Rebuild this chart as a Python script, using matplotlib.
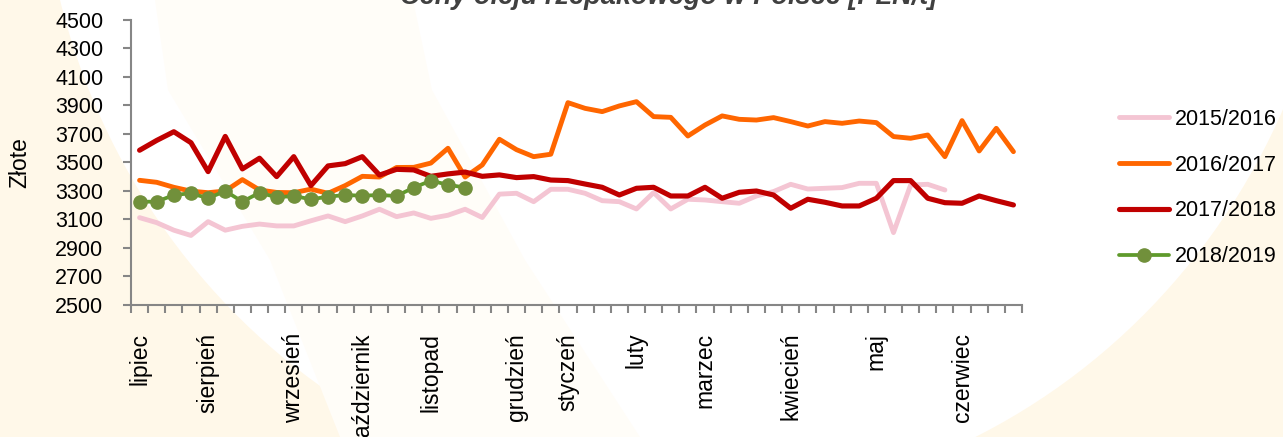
import numpy as np
import matplotlib
matplotlib.use("Agg")
import matplotlib.pyplot as plt
from matplotlib.patches import Ellipse, Polygon

# weekly prices of rapeseed oil, PLN/t (marketing year July..June)
weeks = np.arange(52)
s2015_16 = [3113, 3078, 3025, 2988, 3085, 3025, 3052, 3068, 3055, 3055, 3091, 3125,
            3085, 3125, 3172, 3120, 3146, 3108, 3130, 3172, 3114, 3278, 3284, 3225,
            3312, 3312, 3284, 3232, 3225, 3174, 3289, 3174, 3242, 3237, 3225, 3214,
            3265, 3296, 3347, 3314, 3319, 3324, 3354, 3354, 3008, 3342, 3347, 3307]
s2016_17 = [3375, 3361, 3326, 3299, 3288, 3300, 3380, 3307, 3290, 3288, 3313, 3284,
            3338, 3403, 3398, 3465, 3466, 3496, 3600, 3398, 3483, 3663, 3590, 3541,
            3558, 3920, 3880, 3857, 3897, 3927, 3822, 3817, 3686, 3763, 3827, 3803,
            3798, 3815, 3787, 3756, 3787, 3775, 3791, 3780, 3682, 3670, 3693, 3541,
            3794, 3581, 3740, 3576]
s2017_18 = [3586, 3655, 3716, 3639, 3436, 3683, 3455, 3530, 3401, 3541, 3338, 3476,
            3492, 3541, 3412, 3452, 3448, 3403, 3420, 3433, 3403, 3413, 3394, 3401,
            3377, 3373, 3349, 3326, 3272, 3319, 3326, 3265, 3265, 3326, 3249, 3291,
            3300, 3272, 3179, 3242, 3221, 3195, 3195, 3249, 3373, 3373, 3249, 3218,
            3214, 3265, 3232, 3202]
s2018_19 = [3225, 3225, 3272, 3284, 3249, 3300, 3225, 3288, 3256, 3265, 3242, 3260,
            3272, 3267, 3272, 3265, 3324, 3372, 3344, 3324]

month_pos = [0, 4, 9, 13, 17, 22, 25, 29, 33, 38, 43, 48]
month_names = ["lipiec", "sierpień", "wrzesień", "październik", "listopad", "grudzień",
               "styczeń", "luty", "marzec", "kwiecień", "maj", "czerwiec"]

W, H = 1283, 437
font = ["Liberation Sans", "DejaVu Sans"]

fig = plt.figure(figsize=(W / 100, H / 100), dpi=100)
fig.patch.set_facecolor("#FFF8E9")

# decorative background: big white disc and a faint cream band
def px(x, y):
    return (x / W, 1 - y / H)

fig.patches.append(Ellipse(px(690, -165), 1300 / W, 1340 / H, transform=fig.transFigure,
                           facecolor="white", edgecolor="none", zorder=-5))
band = [(155, 0), (413, 0), (432, 90), (525, 260), (640, 437), (340, 437), (270, 260), (168, 90)]
fig.patches.append(Polygon([px(*p) for p in band], closed=True, transform=fig.transFigure,
                           facecolor="#FFFDF8", edgecolor="none", zorder=-4))

ax = fig.add_axes([131 / W, 1 - 305 / H, (1022 - 131) / W, (305 - 20) / H])
ax.patch.set_alpha(0)

kw = dict(solid_joinstyle="round", solid_capstyle="round")
ax.plot(weeks[:len(s2015_16)], s2015_16, color="#F4C5D3", lw=3.5, label="2015/2016", **kw)
ax.plot(weeks[:len(s2016_17)], s2016_17, color="#FF6600", lw=3.5, label="2016/2017", **kw)
ax.plot(weeks[:len(s2017_18)], s2017_18, color="#C00000", lw=3.7, label="2017/2018", **kw)
ax.plot(weeks[:len(s2018_19)], s2018_19, color="#5F9A2B", lw=2.7, marker="o", ms=9.5,
        mfc="#71903B", mec="#71903B", label="2018/2019", **kw)

ax.set_xlim(-0.5, 51.5)
ax.set_ylim(2500, 4500)
ax.set_yticks(np.arange(2500, 4501, 200))
ax.set_xticks(month_pos)
ax.set_xticklabels(month_names, rotation=90, va="top", ha="center",
                   family=font, fontsize=16.5)
ax.set_xticks(np.arange(-0.5, 52, 1), minor=True)

for s in ("top", "right"):
    ax.spines[s].set_visible(False)
for s in ("left", "bottom"):
    ax.spines[s].set_color("#868686")
    ax.spines[s].set_linewidth(1.5)

ax.tick_params(axis="x", which="major", length=0, pad=20)
ax.tick_params(axis="x", which="minor", length=6, width=1.5, color="#868686", direction="out")
ax.tick_params(axis="y", length=6, width=1.5, color="#868686", pad=14)
for t in ax.get_yticklabels():
    t.set_family(font)
    t.set_fontsize(15.5)

ax.set_ylabel("Złote", family=font, fontsize=16.5)
ax.yaxis.set_label_coords((31 - 131) / (1022 - 131), 0.5)

fig.text(669 / W, 1 - 4 / H, "Ceny oleju rzepakowego w Polsce [PLN/t]", ha="center",
         va="baseline", family=font, fontsize=19.5, fontweight="bold", style="italic",
         color="#404040")

fig.legend(loc="center left", bbox_to_anchor=(1119 / W, 1 - 188 / H), frameon=False,
           prop=dict(family=font, size=15.5), handlelength=2.3, handletextpad=0.3,
           labelspacing=1.15, borderpad=0, borderaxespad=0)

fig.savefig("out.png", dpi=100, facecolor=fig.get_facecolor())
